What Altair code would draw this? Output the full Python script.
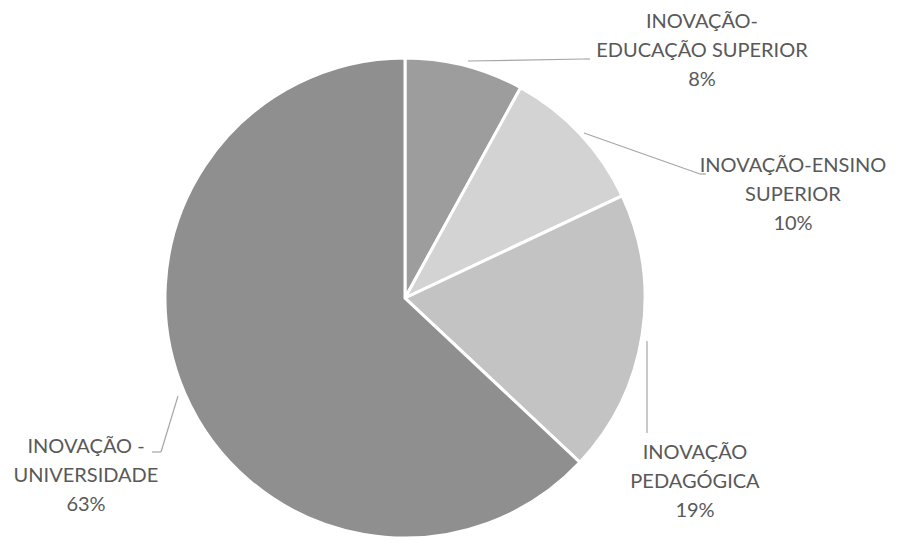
import altair as alt
import pandas as pd

categories = ["INOVAÇÃO-EDUCAÇÃO SUPERIOR", "INOVAÇÃO-ENSINO SUPERIOR",
              "INOVAÇÃO PEDAGÓGICA", "INOVAÇÃO - UNIVERSIDADE"]
values = [8, 10, 19, 63]
label_lines = [
    ["INOVAÇÃO-", "EDUCAÇÃO SUPERIOR"],
    ["INOVAÇÃO-ENSINO", "SUPERIOR"],
    ["INOVAÇÃO", "PEDAGÓGICA"],
    ["INOVAÇÃO -", "UNIVERSIDADE"],
]
colors = ["#9d9d9d", "#d3d3d3", "#c3c3c3", "#8f8f8f"]

df = pd.DataFrame({"cat": categories, "val": values, "ord": list(range(len(values)))})

CX, CY, R = 405, 298, 240

pie = alt.Chart(df).mark_arc(stroke="white", strokeWidth=3, radius=R).encode(
    theta=alt.Theta("val:Q", stack=True),
    order=alt.Order("ord:Q"),
    color=alt.Color("cat:N", scale=alt.Scale(domain=categories, range=colors), legend=None),
    x=alt.value(CX), y=alt.value(CY),
)

# label layout (annotation positions: center x, first-line y)
label_pos = [(702, 22), (793, 166), (695, 453), (86, 447)]
leaders = [
    [(468, 61), (584, 59), (590, 59)],
    [(584, 133), (700, 174), (706, 174)],
    [(647, 341), (647, 433)],
    [(178, 396), (161, 452), (152, 452)],
]

layers = [pie]
for pts in leaders:
    for (x1, y1), (x2, y2) in zip(pts[:-1], pts[1:]):
        layers.append(
            alt.Chart(df).mark_rule(color="#a6a6a6", strokeWidth=1.2).encode(
                x=alt.value(x1), y=alt.value(y1), x2=alt.value(x2), y2=alt.value(y2)
            ).transform_filter("datum.ord == 0")
        )

for i, (lx, ly) in enumerate(label_pos):
    lines = label_lines[i] + [f"{values[i]}%"]
    layers.append(
        alt.Chart(df).mark_text(
            font="Lato", fontSize=20, color="#595959", align="center",
            baseline="middle", lineHeight=29,
        ).encode(x=alt.value(lx), y=alt.value(ly), text=alt.value(lines))
        .transform_filter(f"datum.ord == {i}")
    )

chart = alt.layer(*layers).properties(
    width=907, height=543, autosize=alt.AutoSizeParams(type="none"), padding=0
).configure_view(stroke=None)

chart.save("out.html", embed_options={"renderer": "svg", "actions": False})
